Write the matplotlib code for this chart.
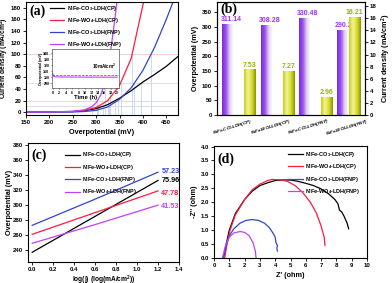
import numpy as np
import matplotlib
matplotlib.use("Agg")
import matplotlib.pyplot as plt
from matplotlib.colors import LinearSegmentedColormap

plt.rcParams['font.family'] = ['Liberation Sans', 'DejaVu Sans']
plt.rcParams['font.weight'] = 'bold'
plt.rcParams['axes.labelweight'] = 'bold'
plt.rcParams['mathtext.fontset'] = 'custom'
plt.rcParams['mathtext.bf'] = 'Liberation Sans:bold'
plt.rcParams['mathtext.rm'] = 'Liberation Sans:bold'
plt.rcParams['mathtext.default'] = 'bf'
plt.rcParams['axes.linewidth'] = 0.8

# ---------------- data ----------------
labels = [r'NiFe-CO$_3$-LDH(CP)', r'NiFe-WO$_4$-LDH(CP)',
          r'NiFe-CO$_3$-LDH(FNP)', r'NiFe-WO$_4$-LDH(FNP)']
colors = ['#000000', '#ff1a40', '#3344cc', '#c040ff']

# (a) polarization curves
pot_a = [150, 200, 250, 275, 300, 325, 350, 375, 400, 425, 450, 475]
j_co3_cp = [0.5, 0.6, 1.0, 2.5, 6, 13, 24, 37, 52, 65, 79, 96]
j_wo4_cp = [0.3, 0.4, 1.0, 3, 8, 20, 46, 93, 185, 260, 330, 400]
j_co3_fnp = [0.0, 0.1, 0.2, 1.0, 3, 9, 22, 42, 72, 112, 160, 212]
pot_a_p = [150, 200, 250, 275, 290, 300, 310, 320, 330, 340, 350]
j_wo4_fnp = [0.3, 0.4, 1.2, 4, 9, 16, 30, 55, 100, 160, 230]
ref_levels = [10, 20, 50, 100]

# (a) inset: stability
t_inset = [0, 0.3, 0.7, 1, 2, 4, 6, 8, 10, 12, 14, 16, 18, 20]
v_inset = [306, 302, 301, 300.6, 300.4, 300.3, 300.2, 300.2, 300.1, 300.1, 300.0, 300.0, 300.0, 300.0]
v_ref = 304

# (b) bars
eta10 = [311.14, 308.28, 330.48, 290.28]
j_at = [7.53, 7.27, 2.96, 16.21]

# (c) Tafel
logj = [0.0, 0.6, 1.2]
tafel = [[237, 285, 333], [261, 290, 319], [273, 308, 344], [249, 274, 300]]
slopes = ['75.96', '47.78', '57.23', '41.53']
slope_y = [333, 316, 345, 298]

# (d) Nyquist
zre = [
    [0.62, 0.8, 1.0, 1.4, 2.0, 2.5, 3.0, 3.5, 4.0, 4.5, 5.0, 5.5, 6.0, 6.5, 7.0, 7.5, 7.9, 8.1, 8.2, 8.35, 8.5, 8.7, 8.8],
    [0.7, 0.85, 1.05, 1.4, 2.0, 2.5, 3.0, 3.5, 3.8, 4.4, 4.8, 5.3, 5.8, 6.3, 6.7, 7.0, 7.2, 7.25],
    [0.6, 0.8, 1.0, 1.3, 1.7, 2.1, 2.5, 2.9, 3.3, 3.6, 3.85, 4.0, 4.05, 4.15, 4.1, 4.15],
    [0.55, 0.75, 1.0, 1.3, 1.7, 2.0, 2.3, 2.55, 2.7, 2.75],
]
zim = [
    [0.0, 0.5, 1.0, 1.6, 2.1, 2.4, 2.6, 2.7, 2.78, 2.8, 2.8, 2.75, 2.68, 2.6, 2.48, 2.3, 2.1, 1.95, 1.72, 1.65, 1.5, 1.25, 1.05],
    [0.0, 0.5, 1.0, 1.55, 2.1, 2.45, 2.65, 2.78, 2.82, 2.8, 2.75, 2.6, 2.35, 2.0, 1.6, 1.15, 0.75, 0.45],
    [0.0, 0.45, 0.8, 1.05, 1.25, 1.35, 1.38, 1.35, 1.25, 1.1, 0.9, 0.75, 0.55, 0.45, 0.35, 0.25],
    [0.0, 0.45, 0.75, 0.9, 0.95, 0.92, 0.8, 0.55, 0.25, 0.0],
]

fig = plt.figure(figsize=(3.92, 2.83), dpi=100)
fs_tick = 4.3
fs_lab = 5.2
fs_leg = 4.0
panel_font = dict(family='Liberation Serif', weight='bold', size=10)


def style(ax):
    ax.tick_params(labelsize=fs_tick, length=2, width=0.6, pad=1.5)
    for lab in ax.get_xticklabels() + ax.get_yticklabels():
        lab.set_fontweight('bold')


# ---------------- (a) ----------------
axa = fig.add_axes([26/392, 1-115/283, 152/392, 113/283])
curves_a = [(pot_a, j_co3_cp), (pot_a, j_wo4_cp), (pot_a, j_co3_fnp), (pot_a_p, j_wo4_fnp)]
for lvl, lc in zip(ref_levels, ['#d8d8e8', '#d8d8e8', '#dcdcdc', '#f0c8c8']):
    axa.axhline(lvl, color=lc, lw=0.6, zorder=0)
    for (xx, yy) in curves_a:
        xi = np.interp(lvl, yy, xx)
        axa.plot([xi, xi], [-5, lvl], color='#c8d4ec', lw=0.6, zorder=0)
for (xx, yy), c, l in zip(curves_a, colors, labels):
    axa.plot(xx, yy, color=c, lw=0.9, label=l)
axa.set_xlim(150, 475)
axa.set_ylim(-5, 190)
axa.set_xticks(range(150, 451, 50))
axa.set_yticks(range(0, 181, 20))
axa.set_xlabel('Overpotential (mV)', fontsize=fs_lab, labelpad=3)
axa.set_ylabel('Current density (mA/cm$^2$)', fontsize=4.8)
axa.yaxis.set_label_coords(-0.1, 0.5)
style(axa)
axa.legend(loc='upper left', bbox_to_anchor=(0.13, 1.02), frameon=False, fontsize=fs_leg,
           handlelength=2.6, handletextpad=0.5, labelspacing=0.55, borderpad=0.2)
axa.text(0.02, 0.92, '(a)', transform=axa.transAxes, **panel_font, va='center')

# inset
axi = fig.add_axes([52/392, 1-88/283, 67/392, 39/283])
axi.plot(t_inset, v_inset, color=colors[3], lw=0.8)
axi.axhline(v_ref, color='#555555', lw=0.5, ls='--')
axi.set_xlim(-0.2, 20.6)
axi.set_ylim(282, 347)
axi.set_xticks(range(0, 21, 2))
axi.set_yticks(range(290, 341, 10))
axi.tick_params(labelsize=2.6, length=1, width=0.4, pad=0.8)
for s in axi.spines.values():
    s.set_linewidth(0.5)
    s.set_color('#555555')
axi.set_xlabel('Time (h)', fontsize=4.3, labelpad=0.5)
axi.set_ylabel('Overpotential (mV)', fontsize=2.6, labelpad=0.5)
axi.text(0.6, 0.48, '10mA/cm$^2$', transform=axi.transAxes, fontsize=3.3)

# ---------------- (b) ----------------
axb = fig.add_axes([217/392, 1-115/283, 148/392, 113/283])
axb2 = axb.twinx()
xp = np.array([0.0, 1.02, 2.01, 3.0])
xy = np.array([0.57, 1.59, 2.58, 3.31])
bw = 0.31
purple_cmap = LinearSegmentedColormap.from_list('p', ['#7a2ad6', '#9b55ee', '#e6d6fb', '#ffffff'])
yellow_cmap = LinearSegmentedColormap.from_list('y', ['#c6d01a', '#f2f29a', '#d8dc30', '#8a9600'])
grad = np.linspace(0, 1, 64).reshape(1, -1)


def grad_bars(ax, bars, cmap):
    for b in bars:
        x0, y0 = b.get_x(), b.get_y()
        w, h = b.get_width(), b.get_height()
        im = ax.imshow(grad, cmap=cmap, aspect='auto', extent=[x0, x0 + w, y0, y0 + h], zorder=2)
        im.set_clip_path(b)
        b.set_facecolor('none')
        b.set_edgecolor('none')


bp = axb.bar(xp, eta10, width=bw, zorder=2)
grad_bars(axb, bp, purple_cmap)
by = axb2.bar(xy, j_at, width=bw, zorder=2)
grad_bars(axb2, by, yellow_cmap)
axb.set_xlim(-0.29, 3.58)
axb.set_ylim(0, 385)
axb2.set_ylim(0, 18.7)
axb2.set_xlim(-0.29, 3.58)
axb.set_yticks(range(0, 351, 50))
axb2.set_yticks(range(0, 19, 2))
for x, v in zip(xp, eta10):
    axb.text(x + 0.08, v + 3, f'{v:.2f}', color='#9933ff', fontsize=5.0, ha='center', va='bottom', fontweight='bold')
for x, v in zip(xy, j_at):
    axb2.text(x, v + 0.15, f'{v:.2f}', color='#99b800', fontsize=5.0, ha='center', va='bottom', fontweight='bold')
axb.set_xticks(xp + 0.1)
axb.set_xticklabels(labels, rotation=17, fontsize=3.2, ha='center', style='italic')
axb.set_ylabel('Overpotential (mV)', fontsize=fs_lab, labelpad=2)
axb2.set_ylabel('Current density (mA/cm$^2$)', fontsize=fs_lab, labelpad=2)
style(axb)
style(axb2)
axb.tick_params(axis='x', length=0, labelsize=3.2, pad=1.5)
axb.text(0.02, 0.94, '(b)', transform=axb.transAxes, **panel_font, va='center', zorder=5)

# ---------------- (c) ----------------
axc = fig.add_axes([28/392, 1-262/283, 151/392, 119/283])
for yy, c, l in zip(tafel, colors, labels):
    axc.plot(logj, yy, color=c, lw=0.9, label=l)
for s, c, y in zip(slopes, colors, slope_y):
    axc.text(1.405, y, s, color=c, fontsize=5.2, ha='right', va='center', fontweight='bold')
axc.set_xlim(-0.04, 1.4)
axc.set_ylim(224, 383)
axc.set_xticks(np.arange(0, 1.41, 0.2))
axc.set_yticks(range(240, 381, 20))
axc.set_xlabel('log(j) (log(mA/cm$^2$))', fontsize=4.8)
axc.xaxis.set_label_coords(0.5, -0.095)
axc.set_ylabel('Overpotential (mV)', fontsize=fs_lab)
axc.yaxis.set_label_coords(-0.1, 0.5)
style(axc)
axc.legend(loc='upper left', bbox_to_anchor=(0.22, 0.97), frameon=False, fontsize=fs_leg,
           handlelength=2.6, handletextpad=0.5, labelspacing=0.6, borderpad=0.2)
axc.text(0.02, 0.9, '(c)', transform=axc.transAxes, **panel_font, va='center')

# ---------------- (d) ----------------
axd = fig.add_axes([214/392, 1-258/283, 153/392, 112/283])
for xx, yy, c, l in zip(zre, zim, colors, labels):
    axd.plot(xx, yy, color=c, lw=0.9, label=l)
axd.set_xlim(0, 10)
axd.set_ylim(0, 4.02)
axd.set_xticks(range(0, 11))
axd.set_yticks(np.arange(0, 4.01, 0.5))
axd.set_xlabel("Z' (ohm)", fontsize=fs_lab, labelpad=3)
axd.set_ylabel("-Z'' (ohm)", fontsize=fs_lab, labelpad=2)
style(axd)
axd.legend(loc='upper left', bbox_to_anchor=(0.46, 1.0), frameon=False, fontsize=fs_leg,
           handlelength=2.6, handletextpad=0.5, labelspacing=0.6, borderpad=0.2)
axd.text(0.02, 0.88, '(d)', transform=axd.transAxes, **panel_font, va='center')

fig.savefig('out.png', dpi=100)
